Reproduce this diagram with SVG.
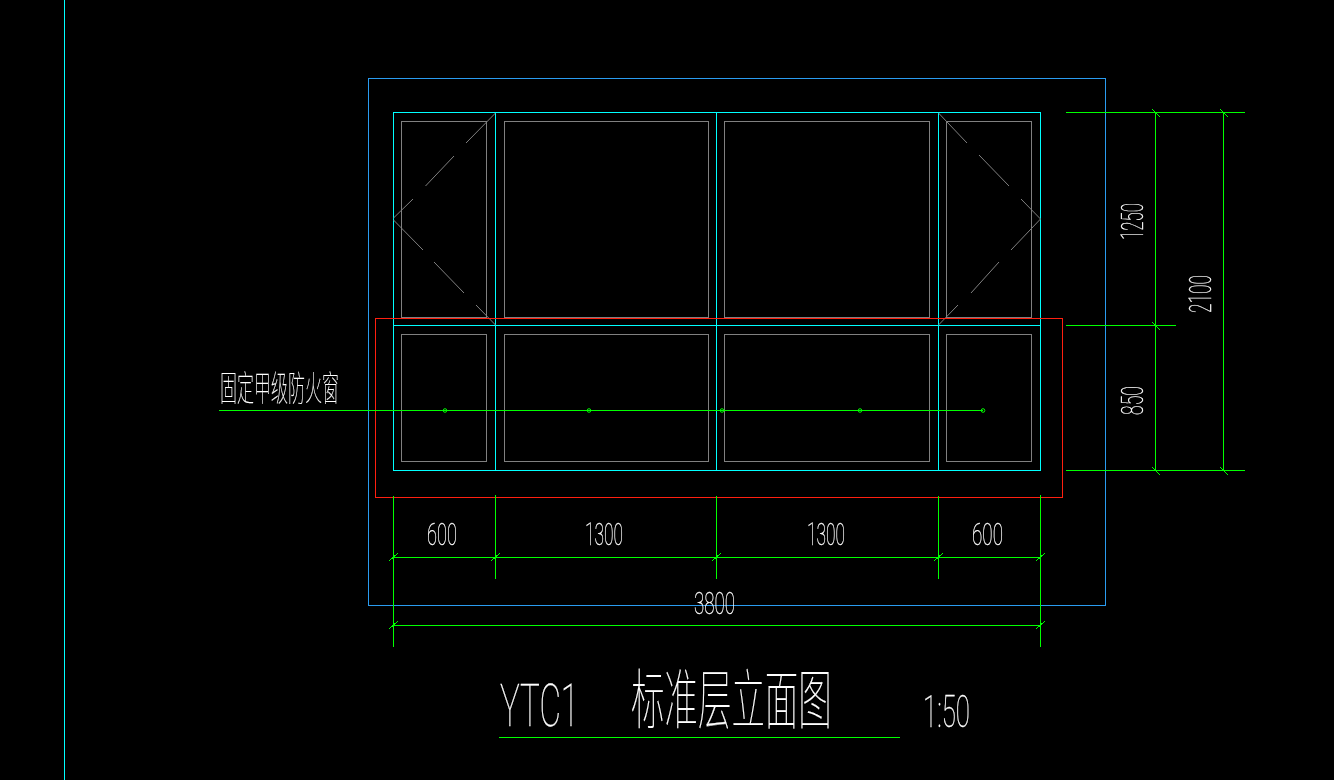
<svg xmlns="http://www.w3.org/2000/svg" width="1334" height="780" viewBox="0 0 1334 780">
<style>
.l{fill:none;stroke-width:1;shape-rendering:crispEdges}
.cy{stroke:#00ffff}.gr{stroke:#808080}.gn{stroke:#00ff00}.rd{stroke:#ff2010}.bl{stroke:#2a9cf0}
.t{fill:#fff;stroke:#fff;stroke-width:.3;font-family:"Roboto","Liberation Sans","Noto Sans CJK SC",sans-serif;font-weight:100}
.c{fill:#fff;stroke:#fff;stroke-width:.2;font-family:"Noto Sans CJK SC","Noto Sans",sans-serif;font-weight:100}
</style>
<defs>
<path id="tb" d="M-4.5 3.5L4.5 -4.5" class="l gn"/>
<path id="tf" d="M-4 -4L4 4" class="l gn"/>
<circle id="dot" r="1.8" fill="none" stroke="#00ff00" stroke-width="1"/>
</defs>
<rect width="1334" height="780" fill="#000"/>
<g id="axis"><path class="l cy" d="M64.5 0V780"/></g>
<g id="outer-frame"><rect class="l bl" x="368.5" y="78.5" width="737" height="527"/></g>
<g id="window">
<g id="glass-panes">
<rect class="l gr" x="401.5" y="121.5" width="85" height="196"/>
<rect class="l gr" x="504.5" y="121.5" width="204" height="196"/>
<rect class="l gr" x="724.5" y="121.5" width="205" height="196"/>
<rect class="l gr" x="946.5" y="121.5" width="85" height="196"/>
<rect class="l gr" x="401.5" y="334.5" width="85" height="127"/>
<rect class="l gr" x="504.5" y="334.5" width="204" height="127"/>
<rect class="l gr" x="724.5" y="334.5" width="205" height="127"/>
<rect class="l gr" x="946.5" y="334.5" width="85" height="127"/>
</g>
<g id="window-frame">
<rect class="l cy" x="393.5" y="112.5" width="647" height="358"/>
<path class="l cy" d="M495.5 112.5V470.5M716.5 112.5V470.5M938.5 112.5V470.5M393.5 325.5H1040.5"/>
</g>
<g id="opening-marks" fill="none" stroke="#808080" stroke-width="1">
<path d="M495.5 113L466 143M454 156L425.5 186M413 199L393.5 218M393.5 220L423 250M434 262L464 293M476 305L495.5 325"/>
<path d="M938.5 113L967 143M979 155L1009 186M1021 199L1040.5 219M1040.5 219L1011 250M999 262L971 293M958 305L938.5 325"/>
</g>
</g>
<g id="red-outline"><rect class="l rd" x="375.5" y="318.5" width="687" height="179"/></g>
<g id="connectors">
<path class="l gn" d="M219 410.5H983"/>
<use href="#dot" x="445" y="410.5"/><use href="#dot" x="589" y="410.5"/><use href="#dot" x="722" y="410.5"/><use href="#dot" x="860" y="410.5"/><use href="#dot" x="983" y="410.5"/>
<path class="l gn" d="M1066 112.5H1245M1066 325.5H1176M1066 470.5H1245M1155.5 112.5V470.5M1223.5 112.5V470.5"/>
<use href="#tf" x="1156" y="113"/><use href="#tf" x="1224" y="113"/><use href="#tf" x="1156" y="326"/><use href="#tf" x="1156" y="471"/><use href="#tf" x="1224" y="471"/>
<path class="l gn" d="M393.5 496V647M495.5 495V579M716.5 496V579M938.5 496V579M1040.5 495V647M393.5 557.5H1040.5M393.5 625.5H1040.5"/>
<use href="#tb" x="393.5" y="557.5"/><use href="#tb" x="495.5" y="557.5"/><use href="#tb" x="716.5" y="557.5"/><use href="#tb" x="938.5" y="557.5"/><use href="#tb" x="1040.5" y="557.5"/><use href="#tb" x="393.5" y="625.5"/><use href="#tb" x="1040.5" y="625.5"/>
<path class="l gn" d="M499 737.5H900"/>
</g>
<g id="labels" opacity="0.999">
<text class="t" x="427" y="545" font-size="31" textLength="30" lengthAdjust="spacingAndGlyphs">600</text>
<text class="t" x="585" y="545" font-size="31" textLength="38" lengthAdjust="spacingAndGlyphs">1300</text>
<text class="t" x="807" y="545" font-size="31" textLength="38" lengthAdjust="spacingAndGlyphs">1300</text>
<text class="t" x="972" y="545" font-size="31" textLength="31" lengthAdjust="spacingAndGlyphs">600</text>
<text class="t" x="694" y="614" font-size="32" textLength="41" lengthAdjust="spacingAndGlyphs">3800</text>
<text class="t" transform="translate(1143 240) rotate(-90)" font-size="31" textLength="37" lengthAdjust="spacingAndGlyphs">1250</text>
<text class="t" transform="translate(1143 415) rotate(-90)" font-size="31" textLength="29" lengthAdjust="spacingAndGlyphs">850</text>
<text class="t" transform="translate(1211 313) rotate(-90)" font-size="31" textLength="38" lengthAdjust="spacingAndGlyphs">2100</text>
<text class="c" transform="translate(220 401) scale(.486 1)" font-size="35">固定甲级防火窗</text>
<text class="t" x="500" y="726" font-size="60" textLength="79" lengthAdjust="spacingAndGlyphs">YTC1</text>
<text class="c" transform="translate(631 723) scale(.515 1)" font-size="65">标准层立面图</text>
<text class="t" x="923" y="727" font-size="45" textLength="47" lengthAdjust="spacingAndGlyphs">1:50</text>
</g>
</svg>
